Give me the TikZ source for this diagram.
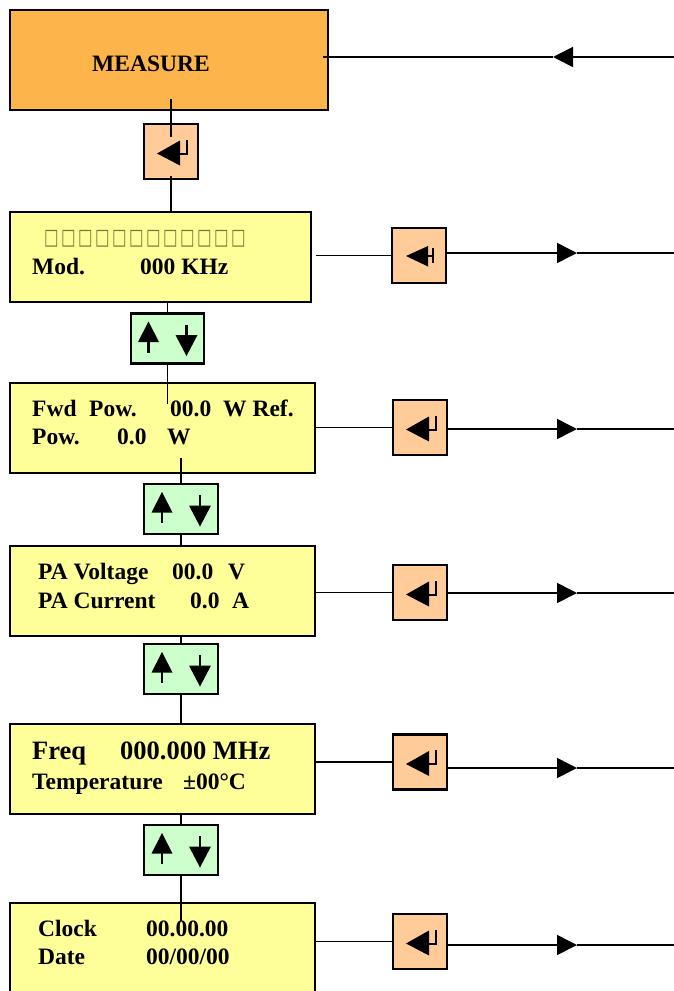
\documentclass[tikz,border=0pt]{standalone}
\usepackage{fontspec}
\setmainfont{Liberation Serif}
\newfontfamily\symfont{DejaVu Sans}
\usetikzlibrary{arrows.meta}
\definecolor{measurefill}{RGB}{253,180,75}
\definecolor{enterfill}{RGB}{255,204,153}
\definecolor{screenfill}{RGB}{255,255,153}
\definecolor{udfill}{RGB}{204,255,204}
\definecolor{tofu}{RGB}{120,120,60}
\tikzset{
  box/.style={draw, line width=2.2pt, inner sep=0pt, anchor=center},
  measurebox/.style={box, fill=measurefill, minimum width=318pt, minimum height=100pt},
  screen/.style={box, fill=screenfill, minimum width=305pt, minimum height=90pt},
  enterkey/.style={box, fill=enterfill, minimum width=54pt, minimum height=55pt},
  udkey/.style={box, fill=udfill, minimum width=74pt, minimum height=50pt},
  txt/.style={anchor=base west, inner sep=0pt, font=\bfseries\fontsize{23.5}{27}\selectfont},
  bigtxt/.style={anchor=base west, inner sep=0pt, font=\bfseries\fontsize{26.5}{30}\selectfont},
  conn/.style={line width=1.6pt},
  midarrow/.style={conn, -{Triangle[length=20pt,width=20pt]}},
  pics/enter/.style={code={
    \fill (-14,2) -- (9,-11) -- (9,14) -- cycle;
    \draw[line width=2pt] (8,2) -- (16,2) -- (16,-12);
  }},
  pics/enterbar/.style={code={
    \fill (-13,0.5) -- (9,-9.5) -- (9,11) -- cycle;
    \draw[line width=2pt] (8,0.5) -- (14,0.5);
    \draw[line width=2pt] (14,-8) -- (14,7.5);
  }},
  pics/updown/.style={code={
    \fill (-19,-17) -- (-29.5,3.5) -- (-8.5,3.5) -- cycle;
    \draw[line width=2.2pt] (-19,3) -- (-19,14);
    \draw[line width=2.2pt] (19,-14) -- (19,-3);
    \fill (8,-3.5) -- (30,-3.5) -- (19,17.5) -- cycle;
  }},
}
\newcommand{\tofurow}{\foreach \i in {1,...,12}{\makebox[17pt][l]{\scalebox{0.7}[1]{□}}}}
\begin{document}
\begin{tikzpicture}[x=1pt,y=-1pt]
\useasboundingbox (0,0) rectangle (674,991);

% boxes
\node[measurebox] (m) at (169,60) {};
\node[enterkey] (e0) at (171,151.5) {};
\node[screen, minimum width=301pt] (b2) at (160.5,257) {};
\node[enterkey] (e2) at (419,255.5) {};
\node[udkey, minimum width=73pt] (u2) at (167.5,338.5) {};
\node[screen] (b3) at (162.5,428) {};
\node[enterkey] (e3) at (420,427.5) {};
\node[udkey] (u3) at (181,509) {};
\node[screen] (b4) at (162.5,591) {};
\node[enterkey] (e4) at (420,592.5) {};
\node[udkey] (u4) at (181,669) {};
\node[screen] (b5) at (162.5,769) {};
\node[enterkey] (e5) at (420,762) {};
\node[udkey] (u5) at (181,850) {};
\node[screen] (b6) at (162.5,948) {};
\node[enterkey] (e6) at (420,941.5) {};

% key symbols
\pic at (e0) {enter};
\pic at (e2) {enterbar};
\pic at (e3) {enter};
\pic at (e4) {enter};
\pic at (e5) {enter};
\pic at (e6) {enter};
\pic at (u2) {updown};
\pic at (u3) {updown};
\pic at (u4) {updown};
\pic at (u5) {updown};

% texts
\node[txt] (tm) at (92,71) {MEASURE};
\node[anchor=base west, inner sep=0pt, text=tofu, font=\symfont\fontsize{22}{24}\selectfont] (t2a) at (44,244) {\tofurow};
\node[txt] (t2b) at (32,274) {\makebox[108pt][l]{Mod.}000 KHz};
\node[txt] (t3a) at (32,416) {\makebox[57pt][l]{Fwd}\makebox[81pt][l]{Pow.}\makebox[53pt][l]{00.0}W Ref.};
\node[txt] (t3b) at (32,444) {\makebox[85pt][l]{Pow.}\makebox[50pt][l]{0.0}W};
\node[txt] (t4a) at (38,579) {\makebox[134pt][l]{PA Voltage}\makebox[56pt][l]{00.0}V};
\node[txt] (t4b) at (38,608) {\makebox[152pt][l]{PA Current}\makebox[42pt][l]{0.0}A};
\node[bigtxt] (t5a) at (32,759) {\makebox[88pt][l]{Freq}000.000 MHz};
\node[txt] (t5b) at (32,789) {\makebox[151pt][l]{Temperature}±00°C};
\node[txt] (t6a) at (38,936) {\makebox[108pt][l]{Clock}00.00.00};
\node[txt] (t6b) at (38,964) {\makebox[108pt][l]{Date}00/00/00};

% free ends
\coordinate (r1) at (674,57);
\coordinate (a1) at (553,57);
\coordinate (r2) at (674,253);
\coordinate (a2) at (577,253);
\coordinate (r3) at (674,429);
\coordinate (a3) at (577,429);
\coordinate (r4) at (674,593);
\coordinate (a4) at (577,593);
\coordinate (r5) at (674,768);
\coordinate (a5) at (577,768);
\coordinate (r6) at (674,945);
\coordinate (a6) at (577,945);

% top input line
\draw[midarrow] (r1) -- (a1);
\draw[conn] (a1) -- ([xshift=-6pt]m.east |- a1);

% vertical chain
\draw[conn] ([yshift=12pt]m.south -| e0) -- ([yshift=-14pt]e0.north);
\draw[conn] ([yshift=4pt]e0.south) -- (e0.south |- b2.north);
\draw[conn] (u2.north |- b2.south) -- (u2.north);
\draw[conn] (u2.south) -- ([yshift=-22pt]u2.south |- b3.north);
\draw[conn] ([yshift=16pt]u3.north |- b3.south) -- (u3.north);
\draw[conn] (u3.south) -- (u3.south |- b4.north);
\draw[conn] (u4.north |- b4.south) -- (u4.north);
\draw[conn] (u4.south) -- (u4.south |- b5.north);
\draw[conn] (u5.north |- b5.south) -- (u5.north);
\draw[conn] (u5.south) -- ([yshift=-19pt]u5.south |- b6.north);

% right side lines
\draw[conn] ([xshift=4pt]b2.east |- e2.west) -- (e2.west);
\draw[midarrow] (e2.east |- a2) -- (a2);
\draw[conn] (a2) -- (r2);
\draw[conn] (b3.east |- e3.west) -- (e3.west);
\draw[midarrow] (e3.east |- a3) -- (a3);
\draw[conn] (a3) -- (r3);
\draw[conn] (b4.east |- e4.west) -- (e4.west);
\draw[midarrow] (e4.east |- a4) -- (a4);
\draw[conn] (a4) -- (r4);
\draw[conn] (b5.east |- e5.west) -- (e5.west);
\draw[midarrow] (e5.east |- a5) -- (a5);
\draw[conn] (a5) -- (r5);
\draw[conn] (b6.east |- e6.west) -- (e6.west);
\draw[midarrow] (e6.east |- a6) -- (a6);
\draw[conn] (a6) -- (r6);
\end{tikzpicture}
\end{document}
